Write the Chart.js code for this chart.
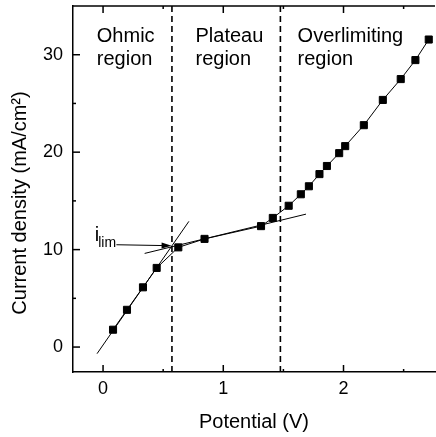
<!DOCTYPE html>
<html>
<head>
<meta charset="utf-8">
<script src="https://cdn.jsdelivr.net/npm/chart.js@4.4.1/dist/chart.umd.min.js"></script>
<style>
  html, body { margin: 0; padding: 0; background: #fff; overflow: hidden; }
</style>
</head>
<body>
<canvas id="chartIV" width="441" height="437"></canvas>
<script>
// measured points
const potential = [0.083, 0.199, 0.332, 0.446, 0.626, 0.844, 1.314, 1.412, 1.544, 1.645,
                   1.712, 1.80, 1.862, 1.964, 2.014, 2.169, 2.327, 2.476, 2.598, 2.709]
const current = [1.78, 3.82, 6.13, 8.12, 10.23, 11.1, 12.41, 13.25, 14.5, 15.68,
                 16.5, 17.75, 18.58, 19.9, 20.62, 22.77, 25.36, 27.5, 29.45, 31.56]

// fitted lines
const ohmicFitX = [-0.05, 0.714]
const ohmicFitY = [-0.68, 12.9]
const plateauFitX = [0.346, 1.688]
const plateauFitY = [9.61, 13.64]

// region boundaries
const boundaries = [0.573, 1.475]
const regionNames = [['Ohmic', 'region'], ['Plateau', 'region'], ['Overlimiting', 'region']]

// axes
const xMajor = [0, 1, 2]
const xMinor = [0.5, 1.5, 2.5]
const yMajor = [0, 10, 20, 30]
const yMinor = [5, 15, 25]
const xRange = [-0.25, 2.761]
const yRange = [-2.56, 35]

const FONT = '"Liberation Sans", Arial, Helvetica, sans-serif'

const toPts = (xs, ys) => xs.map((x, i) => ({ x, y: ys[i] }))

// inward ticks, top border and annotations
const decor = {
    id: 'decor',
    afterDraw(chart) {
        const { ctx, chartArea: a, scales: { x, y } } = chart
        ctx.save()
        ctx.strokeStyle = '#000'
        ctx.lineWidth = 1.5

        // top border
        ctx.beginPath()
        ctx.moveTo(a.left, a.top)
        ctx.lineTo(a.right, a.top)
        ctx.stroke()

        const tick = (vals, len) => {
            vals.forEach(v => {
                const px = x.getPixelForValue(v)
                ctx.beginPath()
                ctx.moveTo(px, a.bottom); ctx.lineTo(px, a.bottom - len)
                ctx.moveTo(px, a.top); ctx.lineTo(px, a.top + len)
                ctx.stroke()
            })
        }
        const tickY = (vals, len) => {
            vals.forEach(v => {
                const py = y.getPixelForValue(v)
                ctx.beginPath()
                ctx.moveTo(a.left, py); ctx.lineTo(a.left + len, py)
                ctx.stroke()
            })
        }
        tick(xMajor, 7); tick(xMinor, 3)
        tickY(yMajor, 7); tickY(yMinor, 3)

        // region labels
        ctx.fillStyle = '#000'
        ctx.font = '20px ' + FONT
        ctx.textBaseline = 'alphabetic'
        ctx.textAlign = 'left'
        const labelX = [-0.052, 0.769, 1.618]
        regionNames.forEach((lines, i) => {
            const px = x.getPixelForValue(labelX[i])
            ctx.fillText(lines[0], px, y.getPixelForValue(31.26))
            ctx.fillText(lines[1], px, y.getPixelForValue(28.9))
        })

        // i_lim label
        const ix = x.getPixelForValue(-0.069)
        const iy = y.getPixelForValue(10.84)
        ctx.font = '20px ' + FONT
        ctx.fillText('i', ix, iy)
        const iw = ctx.measureText('i').width
        ctx.font = '14px ' + FONT
        ctx.fillText('lim', ix + iw - 1, iy + 6)

        // arrow
        const x0 = x.getPixelForValue(0.111), y0 = y.getPixelForValue(10.5)
        const x1 = x.getPixelForValue(0.57), y1 = y.getPixelForValue(10.4)
        const ang = Math.atan2(y1 - y0, x1 - x0)
        ctx.lineWidth = 1
        ctx.beginPath()
        ctx.moveTo(x0, y0); ctx.lineTo(x1 - 8 * Math.cos(ang), y1 - 8 * Math.sin(ang))
        ctx.stroke()
        ctx.beginPath()
        ctx.moveTo(x1, y1)
        ctx.lineTo(x1 - 10 * Math.cos(ang) + 3 * Math.sin(ang), y1 - 10 * Math.sin(ang) - 3 * Math.cos(ang))
        ctx.lineTo(x1 - 10 * Math.cos(ang) - 3 * Math.sin(ang), y1 - 10 * Math.sin(ang) + 3 * Math.cos(ang))
        ctx.closePath()
        ctx.fill()

        // y axis title
        ctx.font = '20px ' + FONT
        ctx.textAlign = 'center'
        ctx.textBaseline = 'middle'
        ctx.translate(20, 203)
        ctx.rotate(-Math.PI / 2)
        ctx.fillText('Current density (mA/cm²)', 0, 0)
        ctx.restore()
    }
}

new Chart(document.getElementById('chartIV'), {
    type: 'scatter',
    data: {
        datasets: [
            {
                label: 'data',
                data: toPts(potential, current),
                showLine: true,
                borderColor: '#000',
                borderWidth: 1,
                pointStyle: 'rect',
                pointRadius: 5,
                pointBackgroundColor: '#000',
                pointBorderColor: '#000',
                pointBorderWidth: 1,
                order: 1
            },
            {
                label: 'ohmic fit',
                data: toPts(ohmicFitX, ohmicFitY),
                showLine: true,
                borderColor: '#000',
                borderWidth: 1,
                pointRadius: 0,
                order: 2
            },
            {
                label: 'plateau fit',
                data: toPts(plateauFitX, plateauFitY),
                showLine: true,
                borderColor: '#000',
                borderWidth: 1,
                pointRadius: 0,
                order: 2
            },
            ...boundaries.map(b => ({
                label: 'boundary',
                data: [{ x: b, y: yRange[0] }, { x: b, y: yRange[1] }],
                showLine: true,
                borderColor: '#000',
                borderWidth: 1.6,
                borderDash: [6, 4],
                pointRadius: 0,
                order: 3
            }))
        ]
    },
    options: {
        responsive: false,
        animation: false,
        events: [],
        layout: { padding: { top: 5, right: 0, bottom: 0, left: 0 } },
        scales: {
            x: {
                type: 'linear',
                min: xRange[0],
                max: xRange[1],
                afterBuildTicks: s => { s.ticks = xMajor.map(v => ({ value: v })) },
                afterFit: s => { s.height = 65; s.paddingLeft = 0; s.paddingRight = 0 },
                grid: { display: false, drawTicks: false },
                border: { display: true, color: '#000', width: 1.5 },
                ticks: { color: '#000', padding: 6, font: { family: FONT, size: 18 } },
                title: {
                    display: true,
                    text: 'Potential (V)',
                    color: '#000',
                    font: { family: FONT, size: 20 },
                    padding: { top: 0, bottom: 3 }
                }
            },
            y: {
                type: 'linear',
                min: yRange[0],
                max: yRange[1],
                afterBuildTicks: s => { s.ticks = yMajor.map(v => ({ value: v })) },
                afterFit: s => { s.width = 73; s.paddingTop = 0; s.paddingBottom = 0 },
                grid: { display: false, drawTicks: false },
                border: { display: true, color: '#000', width: 1.5 },
                ticks: { color: '#000', padding: 10, font: { family: FONT, size: 18 } }
            }
        },
        plugins: {
            legend: { display: false },
            tooltip: { enabled: false }
        }
    },
    plugins: [decor]
})
</script>
</body>
</html>
